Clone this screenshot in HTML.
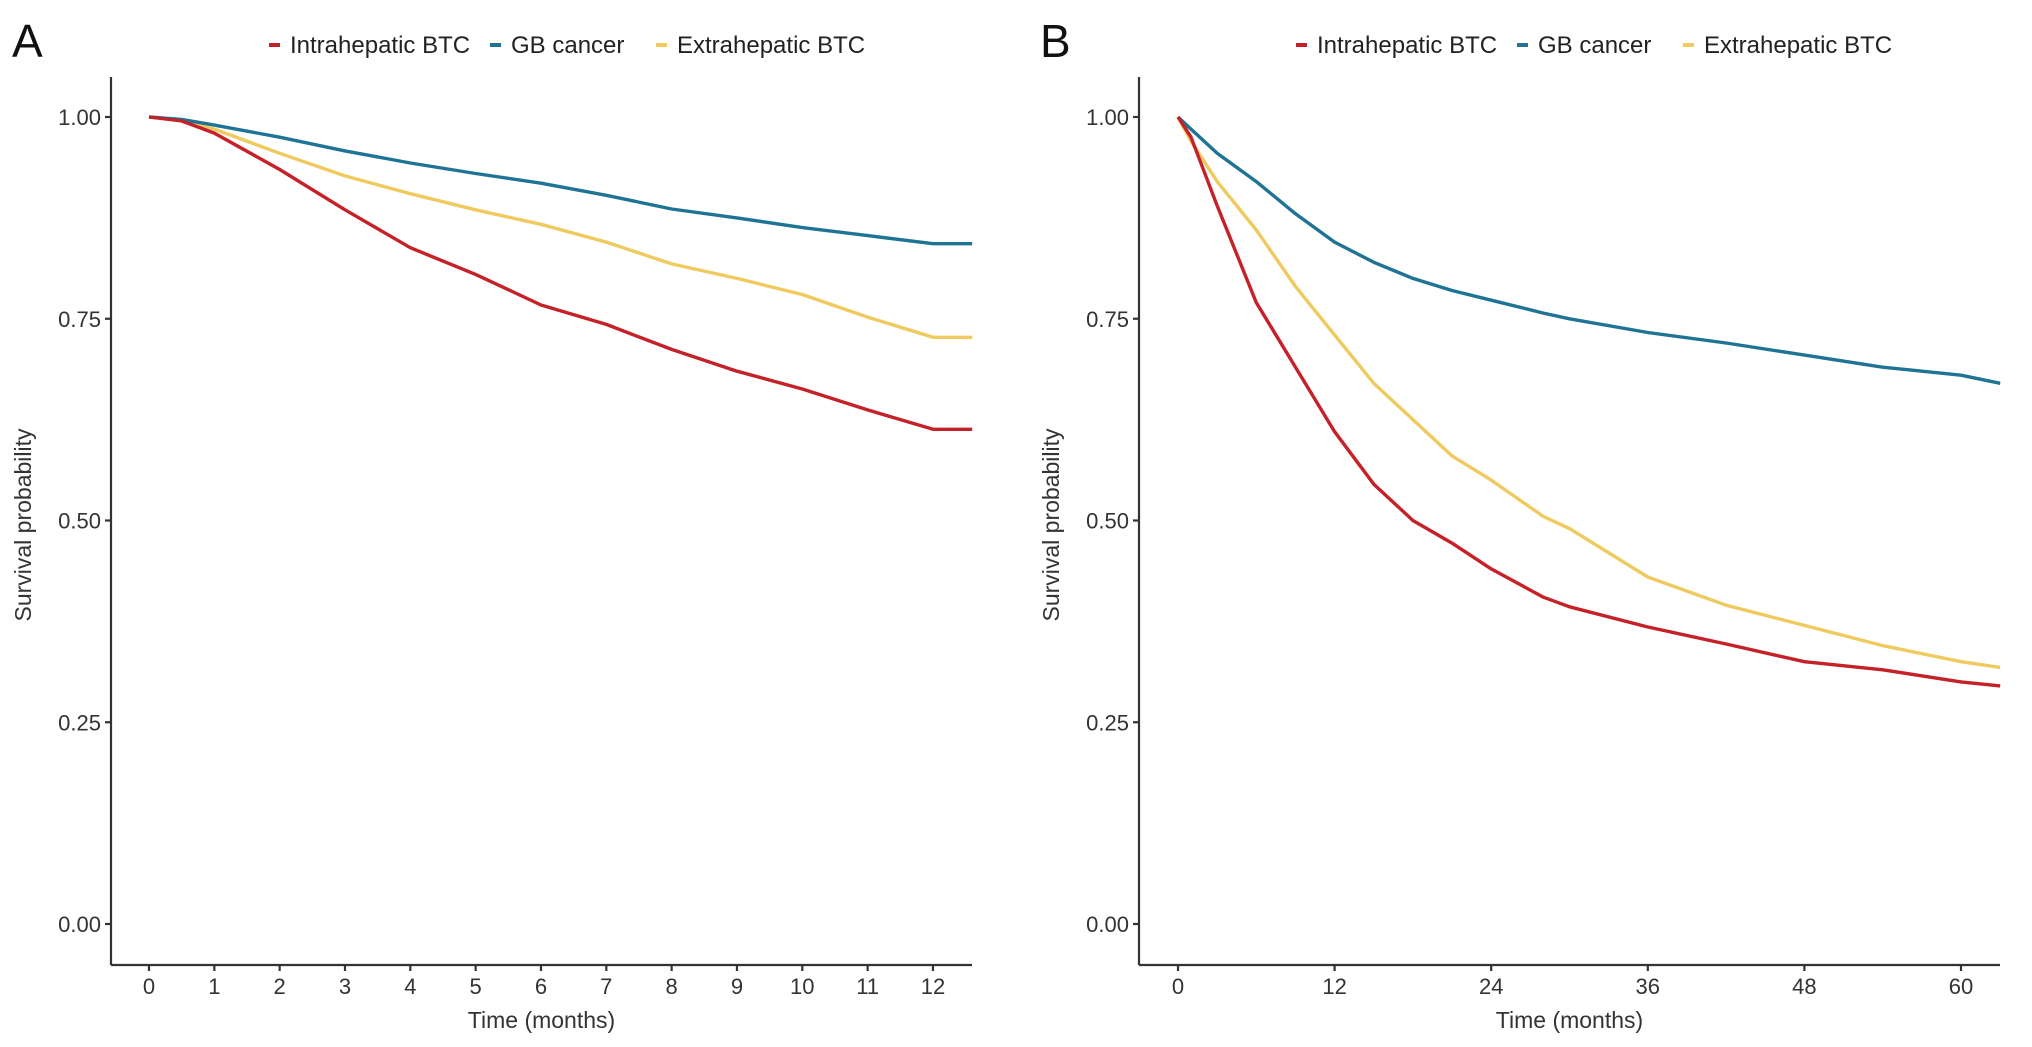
<!DOCTYPE html>
<html><head><meta charset="utf-8"><style>
html,body{margin:0;padding:0;background:#fff;}
svg{display:block;font-family:"Liberation Sans",Arial,sans-serif;}
</style></head><body>
<svg id="chart" width="2032" height="1047" viewBox="0 0 2032 1047"></svg>
<script>
const colors = ['#c42128','#1f7394','#efca5f'];
const seriesNames = ['Intrahepatic BTC','GB cancer','Extrahepatic BTC'];
const yTicks = [0, 0.25, 0.5, 0.75, 1.0];
const yTickLabels = ['0.00','0.25','0.50','0.75','1.00'];

const aTicks = [0,1,2,3,4,5,6,7,8,9,10,11,12];
const aTimes = [0,0.5,1,2,3,4,5,6,7,8,9,10,11,12,12.6];
const aRed =    [1,0.995,0.98,0.935,0.885,0.838,0.805,0.767,0.743,0.712,0.685,0.663,0.637,0.613,0.613];
const aBlue =   [1,0.997,0.99,0.975,0.958,0.943,0.93,0.918,0.903,0.886,0.875,0.863,0.853,0.843,0.843];
const aYellow = [1,0.996,0.985,0.955,0.927,0.905,0.885,0.867,0.845,0.818,0.8,0.78,0.752,0.727,0.727];

const bTicks = [0,12,24,36,48,60];
const bTimes =  [0,1,3,6,9,12,15,18,21,24,28,30,36,42,48,54,60,63];
const bRed =    [1,0.975,0.89,0.77,0.69,0.61,0.545,0.5,0.472,0.44,0.405,0.393,0.368,0.347,0.325,0.315,0.3,0.295];
const bBlue =   [1,0.985,0.955,0.92,0.88,0.845,0.82,0.8,0.785,0.773,0.757,0.75,0.733,0.72,0.705,0.69,0.68,0.67];
const bYellow = [1,0.97,0.92,0.86,0.79,0.73,0.67,0.625,0.58,0.55,0.505,0.49,0.43,0.395,0.37,0.345,0.325,0.318];

const NS='http://www.w3.org/2000/svg';
const svg=document.getElementById('chart');
function el(tag,attrs,parent){const e=document.createElementNS(NS,tag);for(const k in attrs)e.setAttribute(k,attrs[k]);(parent||svg).appendChild(e);return e;}

function panel(opt){
  const g=el('g',{});
  
  
  const yTop=117,yBot=924;
  const ys=v=>yBot-(yBot-yTop)*v;
  const xs=t=>opt.x0+(t-0)*opt.pxPer;
  // letter
  const L=el('text',{x:opt.letterX,y:57,'font-size':46,fill:'#111'},g);L.textContent=opt.letter;
  
  
  // legend
  const leg=el('g',{},g);
  
  
  const lx=[0,221,387];
  seriesNames.forEach((n,i)=>{
    const it=el('g',{},leg);
    
    
    el('line',{x1:opt.legX+lx[i],x2:opt.legX+lx[i]+11,y1:45,y2:45,stroke:colors[i],'stroke-width':4},it);
    const t=el('text',{x:opt.legX+lx[i]+21,y:53,'font-size':24,fill:'#222'},it);t.textContent=n;
  });
  // axes
  const ax=el('g',{stroke:'#333','stroke-width':2.2,fill:'none'},g);
  
  
  el('line',{x1:opt.axL,x2:opt.axL,y1:77,y2:965},ax);
  el('line',{x1:opt.axL,x2:opt.axR,y1:965,y2:965},ax);
  yTicks.forEach((v,i)=>{
    el('line',{x1:opt.axL-6,x2:opt.axL,y1:ys(v),y2:ys(v)},ax);
    const t=el('text',{x:opt.axL-10,y:ys(v)+8,'font-size':22,fill:'#333','text-anchor':'end'},g);
    t.textContent=yTickLabels[i];
    
    
  });
  opt.ticks.forEach(v=>{
    el('line',{x1:xs(v),x2:xs(v),y1:965,y2:971},ax);
    const t=el('text',{x:xs(v),y:994,'font-size':22,fill:'#333','text-anchor':'middle'},g);
    t.textContent=String(v);
    
    
  });
  const xt=el('text',{x:(opt.axL+opt.axR)/2,y:1028,'font-size':23,fill:'#333','text-anchor':'middle'},g);
  xt.textContent='Time (months)';
  
  
  const yt=el('text',{x:0,y:0,'font-size':23,fill:'#333','text-anchor':'middle',transform:`translate(${opt.axL-80},525) rotate(-90)`},g);
  yt.textContent='Survival probability';
  
  
  // series: yellow, blue, red drawing order
  [2,1,0].forEach(i=>{
    const vals=opt.series[i];
    const pts=opt.times.map((t,j)=>xs(t).toFixed(1)+','+ys(vals[j]).toFixed(1)).join(' ');
    const p=el('polyline',{points:pts,fill:'none',stroke:colors[i],'stroke-width':3.4,'stroke-linejoin':'round'},g);
    
    
  });
}
panel({id:'a',letter:'A',letterX:12,legX:269,axL:111,axR:972,x0:149,pxPer:65.33,ticks:aTicks,times:aTimes,series:[aRed,aBlue,aYellow]});
panel({id:'b',letter:'B',letterX:1040,legX:1296,axL:1139,axR:2000,x0:1178,pxPer:13.05,ticks:bTicks,times:bTimes,series:[bRed,bBlue,bYellow]});
</script>
</body></html>
